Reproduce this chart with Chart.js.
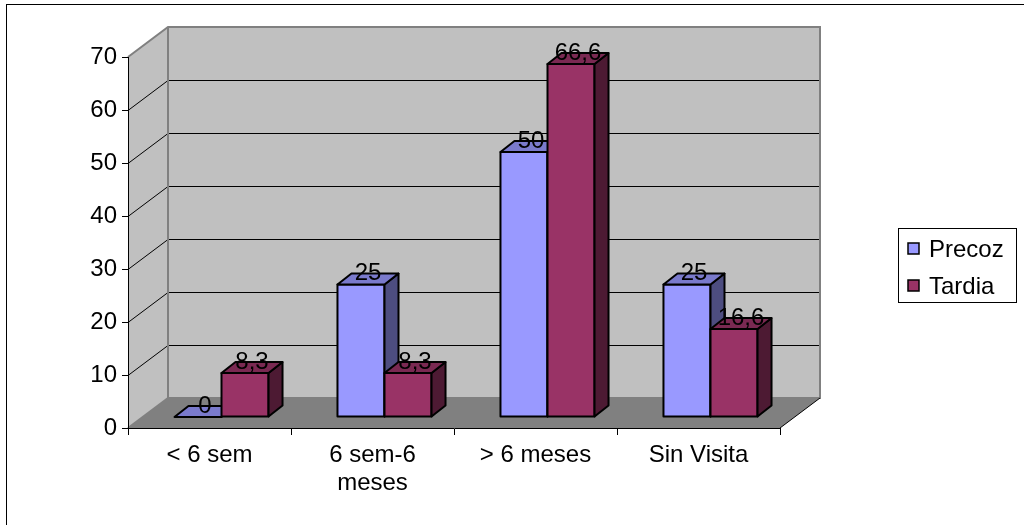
<!DOCTYPE html>
<html>
<head>
<meta charset="utf-8">
<script src="https://cdn.jsdelivr.net/npm/chart.js@4.4.1/dist/chart.umd.min.js"></script>
<style>
  html, body { margin: 0; padding: 0; background: #fff; }
  #wrap { width: 1024px; height: 525px; position: relative; }
</style>
</head>
<body>
<div id="wrap"><canvas id="c" width="1024" height="525"></canvas></div>
<script>
// Categories and series
const categories = ['< 6 sem', ['6 sem-6', 'meses'], '> 6 meses', 'Sin Visita'];
const seriesNames = ['Precoz', 'Tardia'];
const precoz = [0, 25, 50, 25];
const tardia = [8.3, 8.3, 66.6, 16.6];
const yMin = 0, yMax = 70, yStep = 10;

// Face colours: front, top, side
const palette = [
  { front: '#9999ff', top: '#7a7acc', side: '#4d4d80' },
  { front: '#993366', top: '#7a2952', side: '#4d1a33' }
];

const FONT = "'Liberation Sans', Arial, sans-serif";
const WALL = { x: 40, y: -30 };      // depth of the walls/floor
const SHIFT = { x: 12, y: -11 };     // bar row position inside the depth
const BAR_D = { x: 14, y: -11 };     // depth of each bar

function fmt(v) { return String(v).replace('.', ','); }

const scene3d = {
  id: 'scene3d',
  beforeDraw(chart) {
    const ctx = chart.ctx;
    const { left, right } = chart.chartArea;
    const ys = chart.scales.y;
    const yTop = ys.getPixelForValue(yMax);
    const y0 = ys.getPixelForValue(yMin);
    ctx.save();
    ctx.fillStyle = '#ffffff';
    ctx.fillRect(0, 0, chart.width, chart.height);
    // outer frame
    ctx.strokeStyle = '#000';
    ctx.lineWidth = 1;
    ctx.strokeRect(6.5, 4.5, chart.width + 20, chart.height + 20);

    // side wall
    ctx.fillStyle = '#c0c0c0';
    ctx.beginPath();
    ctx.moveTo(left, yTop);
    ctx.lineTo(left + WALL.x, yTop + WALL.y);
    ctx.lineTo(left + WALL.x, y0 + WALL.y);
    ctx.lineTo(left, y0);
    ctx.closePath();
    ctx.fill();
    // back wall
    ctx.fillRect(left + WALL.x, yTop + WALL.y, right - left, y0 - yTop);
    // floor
    ctx.fillStyle = '#808080';
    ctx.beginPath();
    ctx.moveTo(left, y0);
    ctx.lineTo(right, y0);
    ctx.lineTo(right + WALL.x, y0 + WALL.y);
    ctx.lineTo(left + WALL.x, y0 + WALL.y);
    ctx.closePath();
    ctx.fill();

    // gridlines on side and back walls
    ctx.strokeStyle = '#000';
    ctx.lineWidth = 1;
    for (let v = yMin + yStep; v < yMax; v += yStep) {
      const yv = Math.round(ys.getPixelForValue(v)) + 0.5;
      ctx.beginPath();
      ctx.moveTo(left, yv);
      ctx.lineTo(left + WALL.x, yv + WALL.y);
      ctx.lineTo(right + WALL.x, yv + WALL.y);
      ctx.stroke();
    }

    // wall edges
    ctx.strokeStyle = '#808080';
    ctx.lineWidth = 2;
    ctx.beginPath();
    ctx.moveTo(left, yTop);
    ctx.lineTo(left + WALL.x, yTop + WALL.y);
    ctx.lineTo(right + WALL.x, yTop + WALL.y);
    ctx.lineTo(right + WALL.x, y0 + WALL.y);
    ctx.lineTo(left + WALL.x, y0 + WALL.y);
    ctx.lineTo(left + WALL.x, yTop + WALL.y);
    ctx.stroke();
    ctx.beginPath();
    ctx.moveTo(left, y0);
    ctx.lineTo(left + WALL.x, y0 + WALL.y);
    ctx.stroke();
    // floor right edge
    ctx.strokeStyle = '#000';
    ctx.lineWidth = 1;
    ctx.beginPath();
    ctx.moveTo(right, y0);
    ctx.lineTo(right + WALL.x, y0 + WALL.y);
    ctx.stroke();
    ctx.restore();
  },
  beforeDatasetsDraw(chart) {
    chart.ctx.save();
    chart.ctx.translate(SHIFT.x, SHIFT.y);
  },
  afterDatasetsDraw(chart) {
    const ctx = chart.ctx;
    ctx.restore();
    ctx.save();
    ctx.translate(SHIFT.x, SHIFT.y);
    ctx.lineWidth = 2;
    ctx.lineJoin = 'round';
    ctx.strokeStyle = '#000';
    const n = chart.data.labels.length;
    const labels = [];
    for (let i = 0; i < n; i++) {
      chart.data.datasets.forEach((ds, d) => {
        const el = chart.getDatasetMeta(d).data[i];
        const p = el.getProps(['x', 'y', 'base', 'width'], true);
        const l = p.x - p.width / 2, r = p.x + p.width / 2;
        const col = palette[d];
        const h = p.base - p.y;
        if (h > 0.5) {
          ctx.fillStyle = col.front;
          ctx.fillRect(l, p.y, p.width, h);
          ctx.strokeRect(l, p.y, p.width, h);
          // side face
          ctx.fillStyle = col.side;
          ctx.beginPath();
          ctx.moveTo(r, p.y);
          ctx.lineTo(r + BAR_D.x, p.y + BAR_D.y);
          ctx.lineTo(r + BAR_D.x, p.base + BAR_D.y);
          ctx.lineTo(r, p.base);
          ctx.closePath();
          ctx.fill();
          ctx.stroke();
        }
        // top face
        ctx.fillStyle = col.top;
        ctx.beginPath();
        ctx.moveTo(l, p.y);
        ctx.lineTo(r, p.y);
        ctx.lineTo(r + BAR_D.x, p.y + BAR_D.y);
        ctx.lineTo(l + BAR_D.x, p.y + BAR_D.y);
        ctx.closePath();
        ctx.fill();
        ctx.stroke();
        labels.push({ x: p.x + BAR_D.x / 2, y: p.y + BAR_D.y / 2 + 1, t: fmt(ds.data[i]) });
      });
    }
    // value labels
    ctx.fillStyle = '#000';
    ctx.font = '24px ' + FONT;
    ctx.textAlign = 'center';
    ctx.textBaseline = 'alphabetic';
    labels.forEach(o => ctx.fillText(o.t, o.x, o.y));
    ctx.restore();
  },
  afterDraw(chart) {
    // legend box on the right
    const ctx = chart.ctx;
    ctx.save();
    ctx.strokeStyle = '#000';
    ctx.lineWidth = 1;
    ctx.strokeRect(898.5, 228.5, 118, 74);
    ctx.font = '24px ' + FONT;
    ctx.textAlign = 'left';
    ctx.textBaseline = 'alphabetic';
    chart.data.datasets.forEach((ds, d) => {
      const sy = 243 + d * 37;
      ctx.fillStyle = palette[d].front;
      ctx.fillRect(908, sy, 11, 11);
      ctx.lineWidth = 1.5;
      ctx.strokeRect(908, sy, 11, 11);
      ctx.fillStyle = '#000';
      ctx.fillText(ds.label, 929, sy + 14);
    });
    ctx.restore();
  }
};

new Chart(document.getElementById('c'), {
  type: 'bar',
  data: {
    labels: categories,
    datasets: [
      { label: seriesNames[0], data: precoz, backgroundColor: palette[0].front, borderWidth: 0, clip: false },
      { label: seriesNames[1], data: tardia, backgroundColor: palette[1].front, borderWidth: 0, clip: false }
    ]
  },
  options: {
    responsive: false,
    animation: false,
    events: [],
    layout: { padding: { left: 0, top: 57, right: 244, bottom: 0 } },
    datasets: { bar: { categoryPercentage: 0.577, barPercentage: 1 } },
    plugins: { legend: { display: false }, tooltip: { enabled: false } },
    scales: {
      x: {
        afterFit(s) { s.height = 97; },
        grid: { display: true, drawOnChartArea: false, drawTicks: true, tickLength: 7, color: '#000', offset: true },
        border: { display: true, color: '#000', width: 1 },
        ticks: { color: '#000', font: { family: FONT, size: 24, lineHeight: 1.15 }, padding: 7, maxRotation: 0, autoSkip: false }
      },
      y: {
        min: yMin, max: yMax,
        afterFit(s) { s.width = 128; },
        grid: { display: true, drawOnChartArea: false, drawTicks: true, tickLength: 6, color: '#000' },
        border: { display: true, color: '#000', width: 1 },
        ticks: { stepSize: yStep, color: '#000', font: { family: FONT, size: 24 }, padding: 5 }
      }
    }
  },
  plugins: [scene3d]
});
</script>
</body>
</html>
